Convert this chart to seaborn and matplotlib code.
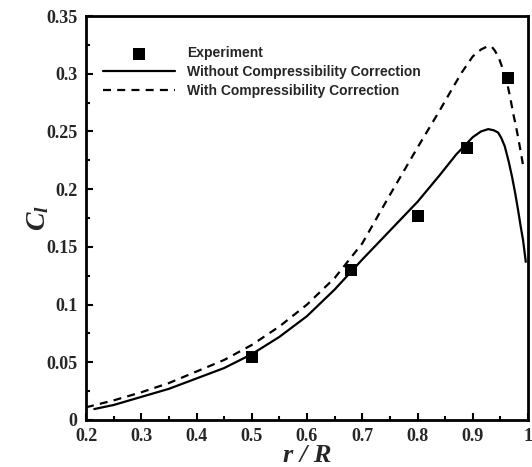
import numpy as np
import pandas as pd
import matplotlib
matplotlib.use("Agg")
import matplotlib.pyplot as plt
from matplotlib.ticker import MultipleLocator
import seaborn as sns

# Experimental data
exp_x = [0.50, 0.68, 0.80, 0.89, 0.964]
exp_y = [0.055, 0.130, 0.177, 0.236, 0.296]

# Without compressibility correction
wo_x = [0.215, 0.25, 0.30, 0.35, 0.40, 0.45, 0.50, 0.55, 0.60, 0.65, 0.70, 0.75,
        0.80, 0.84, 0.87, 0.90, 0.915, 0.928, 0.938, 0.946, 0.952, 0.958, 0.965,
        0.971, 0.977, 0.982, 0.987, 0.991, 0.996]
wo_y = [0.0095, 0.013, 0.020, 0.027, 0.036, 0.045, 0.057, 0.072, 0.090, 0.113, 0.139, 0.164,
        0.189, 0.212, 0.230, 0.245, 0.250, 0.252, 0.251, 0.249, 0.244, 0.237, 0.224,
        0.211, 0.196, 0.182, 0.167, 0.156, 0.137]

# With compressibility correction
w_x = [0.20, 0.25, 0.30, 0.35, 0.40, 0.45, 0.50, 0.55, 0.60, 0.65, 0.70, 0.75,
       0.80, 0.84, 0.864, 0.88, 0.90, 0.915, 0.928, 0.935, 0.940, 0.947, 0.953,
       0.958, 0.964, 0.968, 0.973, 0.978, 0.982, 0.987, 0.992]
w_y = [0.011, 0.017, 0.024, 0.032, 0.042, 0.052, 0.065, 0.081, 0.100, 0.123, 0.153, 0.195,
       0.236, 0.268, 0.288, 0.301, 0.315, 0.321, 0.324, 0.323, 0.320, 0.314, 0.306,
       0.299, 0.288, 0.279, 0.266, 0.255, 0.245, 0.232, 0.218]

x_ticks = [0.2, 0.3, 0.4, 0.5, 0.6, 0.7, 0.8, 0.9, 1.0]
x_tick_labels = ["0.2", "0.3", "0.4", "0.5", "0.6", "0.7", "0.8", "0.9", "1"]
y_ticks = [0, 0.05, 0.1, 0.15, 0.2, 0.25, 0.3, 0.35]
y_tick_labels = ["0", "0.05", "0.1", "0.15", "0.2", "0.25", "0.3", "0.35"]

sns.set_style("ticks")
plt.rcParams['font.family'] = ['Liberation Serif', 'DejaVu Serif']
plt.rcParams['mathtext.fontset'] = 'custom'
plt.rcParams['mathtext.it'] = 'Liberation Serif:italic:bold'
plt.rcParams['mathtext.rm'] = 'Liberation Serif:bold'

fig = plt.figure(figsize=(5.32, 4.67), dpi=100)
ax = fig.add_axes([86/532, 47/467, 442/532, 404/467])

df_exp = pd.DataFrame({"x": exp_x, "y": exp_y})
df_wo = pd.DataFrame({"x": wo_x, "y": wo_y})
df_w = pd.DataFrame({"x": w_x, "y": w_y})

sns.scatterplot(data=df_exp, x="x", y="y", ax=ax, marker="s", s=70, color="black",
                linewidth=0, label="Experiment", zorder=3)
sns.lineplot(data=df_wo, x="x", y="y", ax=ax, color="black", linewidth=1.6,
             label="Without Compressibility Correction", sort=False)
sns.lineplot(data=df_w, x="x", y="y", ax=ax, color="black", linewidth=1.6,
             linestyle=(0, (3.6, 2.8)), label="With Compressibility Correction", sort=False)

ax.set_xlim(0.2, 1.0)
ax.set_ylim(0, 0.35)
ax.set_xticks(x_ticks)
ax.set_xticklabels(x_tick_labels)
ax.set_yticks(y_ticks)
ax.set_yticklabels(y_tick_labels)
ax.xaxis.set_minor_locator(MultipleLocator(0.05))
ax.yaxis.set_minor_locator(MultipleLocator(0.025))
ax.tick_params(which='both', direction='in', top=False, right=False, width=1.5, color='black')
ax.tick_params(which='major', length=5, labelsize=13, pad=6)
ax.tick_params(which='minor', length=3)
for lab in ax.get_xticklabels() + ax.get_yticklabels():
    lab.set_fontweight('bold')

for sp in ax.spines.values():
    sp.set_linewidth(2)
    sp.set_color('black')

ax.set_xlabel("r / R", fontsize=19, fontweight='bold', fontstyle='italic', labelpad=-1)
ax.set_ylabel(r"$C_l$", fontsize=20)
ax.yaxis.set_label_coords(-0.08, 0.5)

leg = ax.legend(loc='upper left', bbox_to_anchor=(0.038, 0.925), frameon=False,
                prop={'family': 'Liberation Sans', 'weight': 'bold', 'size': 10},
                handlelength=5.2, handletextpad=0.85, labelspacing=0.35,
                borderpad=0, borderaxespad=0)

fig.savefig("out.png", dpi=100)
